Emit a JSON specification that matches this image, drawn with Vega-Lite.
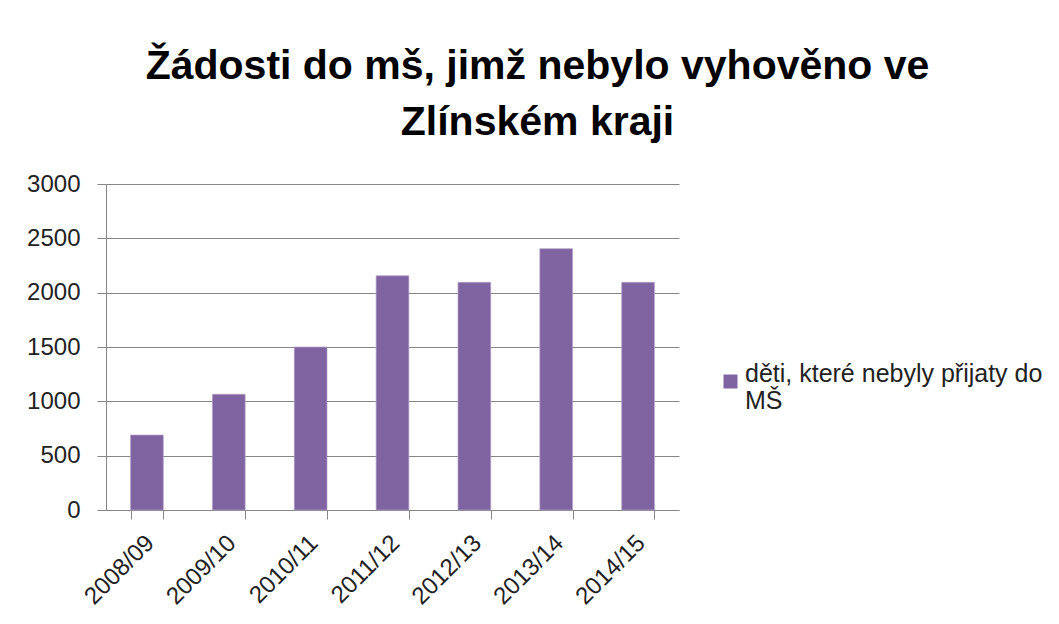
{
  "$schema": "https://vega.github.io/schema/vega-lite/v6.json",
  "width": 573,
  "height": 326,
  "autosize": "none",
  "padding": {"left": 106, "top": 184, "right": 380, "bottom": 114},
  "background": "white",
  "title": {
    "text": ["Žádosti do mš, jimž nebylo vyhověno ve", "Zlínském kraji"],
    "font": "Liberation Sans",
    "fontWeight": "bold",
    "fontSize": 41,
    "lineHeight": 56,
    "anchor": "middle",
    "dx": 145,
    "baseline": "bottom",
    "offset": -13,
    "color": "black"
  },
  "data": {
    "values": [
      {"rok": "2008/09", "pocet": 690, "serie": "děti, které nebyly přijaty do MŠ"},
      {"rok": "2009/10", "pocet": 1065, "serie": "děti, které nebyly přijaty do MŠ"},
      {"rok": "2010/11", "pocet": 1500, "serie": "děti, které nebyly přijaty do MŠ"},
      {"rok": "2011/12", "pocet": 2155, "serie": "děti, které nebyly přijaty do MŠ"},
      {"rok": "2012/13", "pocet": 2095, "serie": "děti, které nebyly přijaty do MŠ"},
      {"rok": "2013/14", "pocet": 2405, "serie": "děti, které nebyly přijaty do MŠ"},
      {"rok": "2014/15", "pocet": 2095, "serie": "děti, které nebyly přijaty do MŠ"}
    ]
  },
  "config": {
    "view": {"stroke": null},
    "font": "Liberation Sans"
  },
  "mark": {"type": "bar", "stroke": "#b3a2c7", "strokeWidth": 0.7},
  "encoding": {
    "x": {
      "field": "rok",
      "type": "nominal",
      "sort": null,
      "scale": {"paddingInner": 0.6, "paddingOuter": 0.3},
      "axis": {
        "title": null,
        "labelAngle": -45,
        "labelAlign": "right",
        "labelBaseline": "middle",
        "labelFontSize": 24,
        "labelColor": "#222",
        "labelOffset": 3,
        "labelPadding": 20,
        "tickBand": "extent",
        "tickSize": 9,
        "tickColor": "#868686",
        "domainColor": "#868686",
        "grid": false
      }
    },
    "y": {
      "field": "pocet",
      "type": "quantitative",
      "scale": {"domain": [0, 3000]},
      "axis": {
        "title": null,
        "format": "d",
        "values": [0, 500, 1000, 1500, 2000, 2500, 3000],
        "grid": true,
        "gridColor": "#868686",
        "tickColor": "#868686",
        "tickSize": 9,
        "domainColor": "#868686",
        "labelFontSize": 24,
        "labelPadding": 17,
        "labelColor": "#222"
      }
    },
    "color": {
      "field": "serie",
      "type": "nominal",
      "scale": {"range": ["#8064A2"]},
      "legend": {
        "orient": "none",
        "legendX": 612,
        "legendY": 185,
        "title": null,
        "symbolType": "square",
        "symbolSize": 196,
        "symbolStrokeWidth": 0,
        "labelFontSize": 25,
        "labelColor": "#222",
        "labelLimit": 400,
        "labelOffset": 2,
        "labelBaseline": "alphabetic",
        "labelExpr": "['děti, které nebyly přijaty do', 'MŠ']",
        "encode": {"labels": {"update": {"dy": {"value": 9}}}}
      }
    }
  }
}
